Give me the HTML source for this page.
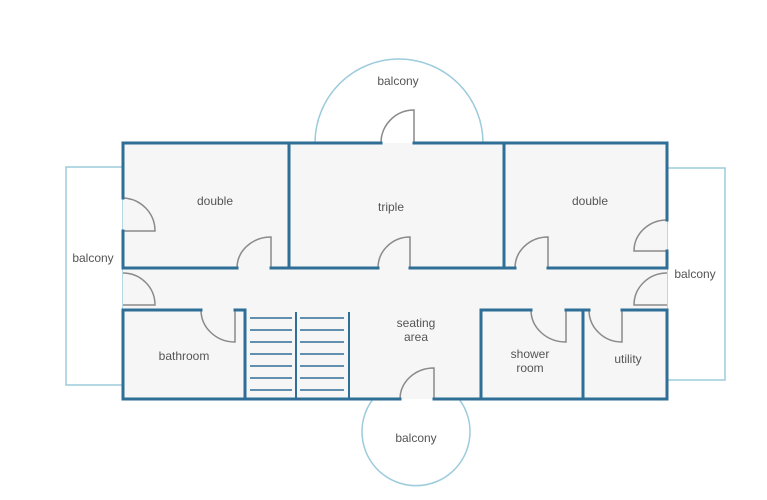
<!DOCTYPE html>
<html><head><meta charset="utf-8"><style>
html,body{margin:0;padding:0;background:#fff;}
svg{display:block;}
text{font-family:"Liberation Sans",sans-serif;font-size:12px;fill:#555;text-anchor:middle;}
</style></head><body>
<svg width="767" height="500" viewBox="0 0 767 500">
<!-- balconies -->
<g fill="none" stroke="#9ccbdc" stroke-width="1.5">
<rect x="66" y="167" width="57" height="218"/>
<rect x="667" y="168" width="58" height="212"/>
<path d="M315,143 A84,84 0 1 1 483,143"/>
<path d="M373,399 A54,54 0 1 0 459,399"/>
</g>
<rect x="123" y="143" width="544" height="256" fill="#f6f6f6"/>
<!-- doors -->
<g fill="none" stroke="#8a8a8a" stroke-width="1.5">
<path d="M123,198 A33,33 0 0 1 155,231 L123,231"/>
<path d="M237,268 A34,31 0 0 1 271,237 L271,268"/>
<path d="M123,273 A32,32 0 0 1 155,305 L123,305"/>
<path d="M201,310 A34,32 0 0 0 235,342 L235,310"/>
<path d="M378,268 A32,31 0 0 1 410,237 L410,268"/>
<path d="M381,143 A33,33 0 0 1 414,110 L414,143"/>
<path d="M515,268 A33,31 0 0 1 548,237 L548,268"/>
<path d="M667,220 A33,31 0 0 0 634,251 L667,251"/>
<path d="M667,273 A33,32 0 0 0 634,305 L667,305"/>
<path d="M531,310 A35,32 0 0 0 566,342 L566,310"/>
<path d="M589,310 A33,32 0 0 0 622,342 L622,310"/>
<path d="M400,399 A34,31 0 0 1 434,368 L434,399"/>
</g>
<!-- walls -->
<g fill="none" stroke="#2f6e96" stroke-width="3" stroke-linecap="square">
<path d="M123,198 L123,143 L381,143 M414,143 L667,143 L667,220"/>
<path d="M667,251 L667,268 L634,268"/>
<path d="M123,231 L123,268 L237,268 M271,268 L378,268 M410,268 L515,268 M548,268 L634,268"/>
<path d="M289,143 L289,268 M504,143 L504,268"/>
<path d="M123,310 L201,310 M235,310 L245,310 L245,399"/>
<path d="M296,313 L296,399 M349,313 L349,399" stroke-width="2"/>
<path d="M123,310 L123,399 L400,399 M434,399 L667,399 L667,310 L622,310"/>
<path d="M589,310 L583,310 L583,399 M566,310 L583,310"/>
<path d="M481,399 L481,310 L531,310"/>
</g>
<g stroke="#2f6e96" stroke-width="1.5">
<path d="M250,318H292M250,330H292M250,342H292M250,354H292M250,366H292M250,378H292M250,390H292"/>
<path d="M300,318H344M300,330H344M300,342H344M300,354H344M300,366H344M300,378H344M300,390H344"/>
</g>
<text x="398" y="85">balcony</text>
<text x="215" y="205">double</text>
<text x="391" y="211">triple</text>
<text x="590" y="205">double</text>
<text x="93" y="262">balcony</text>
<text x="695" y="278">balcony</text>
<text x="416" y="327">seating</text>
<text x="416" y="341">area</text>
<text x="184" y="360">bathroom</text>
<text x="530" y="358">shower</text>
<text x="530" y="372">room</text>
<text x="628" y="363">utility</text>
<text x="416" y="442">balcony</text>
</svg>
</body></html>
